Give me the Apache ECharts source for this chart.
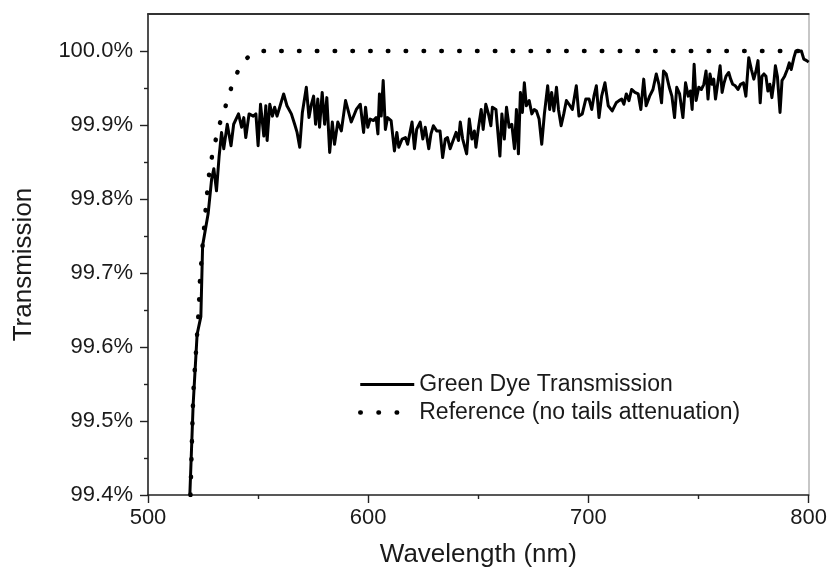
<!DOCTYPE html>
<html><head><meta charset="utf-8">
<script src="https://cdn.jsdelivr.net/npm/echarts@6/dist/echarts.min.js"></script>
<style>html,body{margin:0;padding:0;background:#fff}#c{width:830px;height:573px}</style>
</head><body><div id="c"></div>
<script>
const xTicks = [500, 600, 700, 800];
const yTicks = [99.4, 99.5, 99.6, 99.7, 99.8, 99.9, 100.0];
const seriesNames = ['Green Dye Transmission', 'Reference (no tails attenuation)'];

const greenWl = [519.0,520.5,522.3,524.0,524.8,527.3,528.9,529.9,531.1,532.3,533.4,534.4,536.0,537.7,538.9,541.1,542.5,543.5,544.4,545.9,547.8,549.0,550.0,551.1,552.6,553.5,554.1,555.3,556.5,557.5,558.6,559.8,561.6,563.1,565.1,566.6,567.7,568.9,570.1,571.9,573.1,574.2,575.2,576.1,577.1,577.9,579.1,580.2,581.2,582.5,583.7,584.7,586.2,587.8,589.7,592.3,594.6,596.4,597.9,598.8,599.8,600.9,602.4,603.6,604.4,605.1,605.9,606.8,607.8,608.8,610.4,611.9,613.0,613.9,615.4,616.9,617.9,619.9,621.0,622.0,623.6,624.8,625.9,627.5,628.5,629.6,631.1,632.6,633.8,635.0,636.0,637.2,638.3,639.9,641.0,641.8,642.9,644.7,645.9,647.1,648.2,648.9,650.1,651.3,652.2,653.4,654.6,655.7,656.4,658.0,659.8,660.7,661.8,662.8,664.0,665.2,666.4,667.3,668.2,669.1,670.0,670.9,671.8,673.1,674.3,675.4,676.4,677.6,678.8,680.0,681.5,682.4,683.3,684.3,685.5,686.4,687.6,688.8,690.0,691.2,692.7,694.5,695.7,697.2,698.8,700.3,701.5,702.5,703.6,704.8,706.0,707.5,709.0,710.8,712.6,713.9,715.1,716.1,717.2,718.4,719.6,721.1,722.6,723.8,725.1,726.2,727.8,729.3,730.8,732.0,733.2,734.1,735.3,736.7,737.9,739.1,740.1,741.4,742.9,744.1,745.3,746.3,747.1,748.0,748.9,750.1,751.3,752.4,753.4,754.3,755.2,756.1,756.9,757.7,758.9,759.8,760.7,761.6,762.5,763.7,764.6,765.5,766.7,767.9,769.1,770.4,771.5,772.8,774.0,775.1,776.1,777.0,778.0,778.8,779.7,780.6,781.5,782.4,783.3,784.2,784.9,785.8,787.0,787.9,789.1,790.3,791.2,792.1,793.3,794.2,795.4,796.7,797.8,799.1,800.0];
const greenT = [99.400,99.522,99.617,99.641,99.737,99.780,99.827,99.841,99.811,99.858,99.890,99.868,99.901,99.872,99.901,99.915,99.897,99.910,99.883,99.915,99.912,99.915,99.872,99.928,99.885,99.926,99.879,99.928,99.912,99.924,99.912,99.924,99.942,99.926,99.915,99.901,99.890,99.870,99.917,99.951,99.910,99.928,99.939,99.901,99.935,99.897,99.944,99.901,99.937,99.863,99.904,99.874,99.904,99.892,99.933,99.904,99.921,99.928,99.890,99.924,99.897,99.908,99.906,99.910,99.888,99.942,99.912,99.960,99.894,99.910,99.906,99.865,99.890,99.870,99.881,99.883,99.874,99.904,99.868,99.894,99.904,99.881,99.897,99.868,99.888,99.899,99.892,99.892,99.856,99.881,99.883,99.868,99.877,99.890,99.879,99.904,99.881,99.861,99.908,99.881,99.892,99.870,99.897,99.921,99.894,99.928,99.915,99.899,99.924,99.921,99.858,99.915,99.881,99.924,99.897,99.901,99.868,99.921,99.861,99.944,99.917,99.957,99.926,99.933,99.915,99.921,99.919,99.908,99.874,99.915,99.953,99.921,99.944,99.919,99.951,99.921,99.899,99.915,99.933,99.928,99.921,99.953,99.912,99.915,99.935,99.935,99.921,99.939,99.953,99.910,99.939,99.957,99.926,99.919,99.930,99.933,99.935,99.928,99.942,99.933,99.948,99.944,99.942,99.921,99.962,99.926,99.939,99.948,99.969,99.955,99.930,99.973,99.969,99.951,99.939,99.910,99.951,99.942,99.910,99.957,99.939,99.946,99.921,99.982,99.933,99.951,99.948,99.955,99.973,99.935,99.969,99.955,99.962,99.935,99.960,99.980,99.944,99.957,99.966,99.971,99.962,99.955,99.953,99.948,99.955,99.957,99.939,99.991,99.975,99.962,99.973,99.987,99.930,99.966,99.969,99.966,99.946,99.955,99.937,99.957,99.980,99.966,99.917,99.960,99.966,99.975,99.984,99.975,99.991,100.000,100.000,100.000,99.989,99.987,99.985];

const refWl = [519.3,520.2,520.7,521.5,522.3,523.1,523.6,524.2,524.8,525.5,526.3,527.8,529.1,531.0,533.1,535.5,537.9,540.9,545.6,553.0,800.0];
const refT = [99.400,99.500,99.545,99.580,99.617,99.655,99.690,99.714,99.738,99.762,99.790,99.835,99.858,99.883,99.907,99.928,99.951,99.973,99.992,100.000,100.000];

const FONT = '"Liberation Sans", Arial, sans-serif';
const chart = echarts.init(document.getElementById('c'), null, {renderer: 'canvas'});
const gridL = 148, gridR = 20, gridT = 14, gridB = 76.5;

chart.setOption({
  animation: false,
  backgroundColor: '#fff',
  grid: {left: gridL, right: gridR, top: gridT, bottom: gridB, containLabel: false},
  legend: {
    orient: 'vertical', left: 358, top: 373, padding: 0,
    itemWidth: 54, itemHeight: 20, itemGap: 5,
    itemStyle: {color: 'rgba(0,0,0,0)', borderWidth: 0, opacity: 0},
    textStyle: {fontFamily: FONT, fontSize: 23, color: '#1a1a1a'},
    data: [
      {name: seriesNames[0], lineStyle: {width: 3}},
      {name: seriesNames[1], lineStyle: {width: 4.5, type: [0.5, 17.7], cap: 'round'}}
    ]
  },
  xAxis: [{
    type: 'value', min: xTicks[0], max: xTicks[xTicks.length - 1], interval: 100,
    position: 'bottom',
    name: 'Wavelength (nm)', nameLocation: 'middle', nameGap: 47,
    nameTextStyle: {fontFamily: FONT, fontSize: 26, color: '#1a1a1a'},
    axisLine: {show: true, onZero: false, lineStyle: {color: '#222', width: 1.6}},
    axisTick: {show: true, inside: false, length: 8, lineStyle: {color: '#222', width: 1.4}},
    minorTick: {show: true, splitNumber: 2, length: 4, lineStyle: {color: '#222', width: 1.4}},
    axisLabel: {fontFamily: FONT, fontSize: 22, color: '#1a1a1a', margin: 12},
    splitLine: {show: false}
  }, {
    type: 'value', min: xTicks[0], max: xTicks[xTicks.length - 1], position: 'top',
    axisLine: {show: true, onZero: false, lineStyle: {color: '#333', width: 2}},
    axisTick: {show: false}, axisLabel: {show: false}, splitLine: {show: false}
  }],
  yAxis: [{
    type: 'value', min: 99.4, max: 100.05, interval: 0.1,
    position: 'left',
    name: 'Transmission', nameLocation: 'middle', nameGap: 111,
    nameTextStyle: {fontFamily: FONT, fontSize: 26, color: '#1a1a1a', padding: [0, 20, 0, 0]},
    axisLine: {show: true, onZero: false, lineStyle: {color: '#222', width: 1.6}},
    axisTick: {show: true, inside: false, length: 8, customValues: yTicks, lineStyle: {color: '#222', width: 1.4}},
    minorTick: {show: true, splitNumber: 2, length: 4, lineStyle: {color: '#222', width: 1.4}},
    axisLabel: {fontFamily: FONT, fontSize: 22, color: '#1a1a1a', margin: 15, customValues: yTicks,
      formatter: v => v.toFixed(1) + '%'},
    splitLine: {show: false}
  }, {
    type: 'value', min: 99.4, max: 100.05, position: 'right',
    axisLine: {show: true, onZero: false, lineStyle: {color: '#b5b5b5', width: 1.5}},
    axisTick: {show: false}, axisLabel: {show: false}, splitLine: {show: false}
  }],
  series: [{
    name: seriesNames[0], type: 'line', xAxisIndex: 0, yAxisIndex: 0,
    data: greenWl.map((w, i) => [w, greenT[i]]),
    symbol: 'none', showSymbol: false, clip: true,
    lineStyle: {color: '#000', width: 3, join: 'round'},
    itemStyle: {color: '#000'}, z: 3
  }, {
    name: seriesNames[1], type: 'line', xAxisIndex: 0, yAxisIndex: 0,
    data: refWl.map((w, i) => [w, refT[i]]),
    symbol: 'none', showSymbol: false, smooth: 0.3, clip: true,
    lineStyle: {color: '#000', width: 4.5, type: [0.5, 17.3], cap: 'round'},
    itemStyle: {color: '#000'}, z: 2
  }]
});
</script></body></html>
